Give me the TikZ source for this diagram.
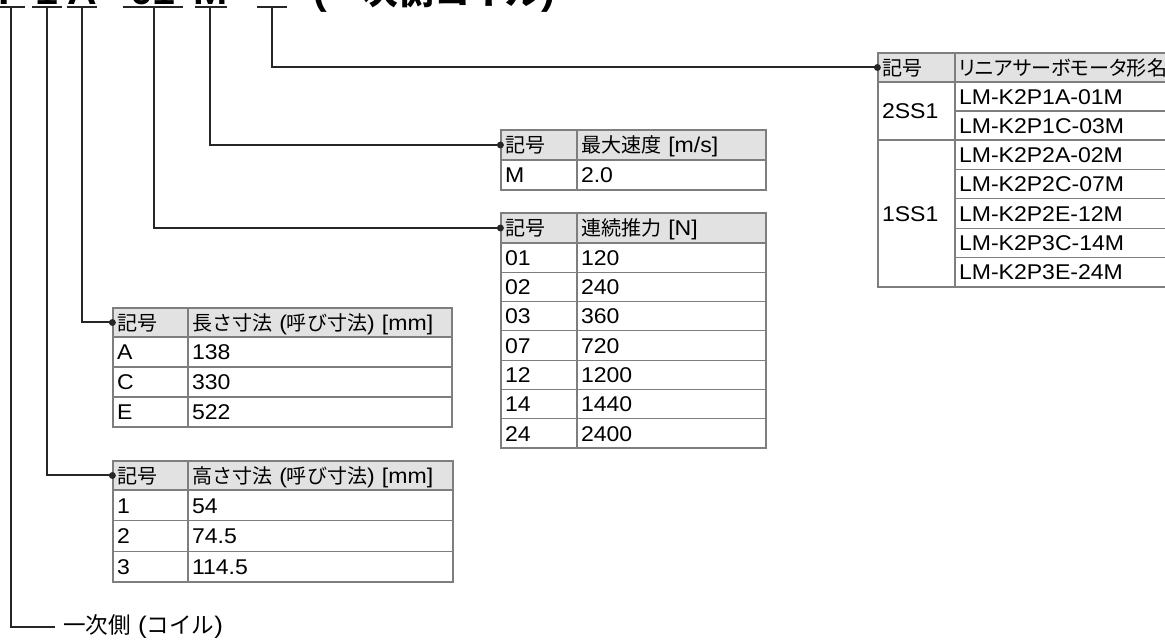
\documentclass[tikz,border=0pt]{standalone}
\usepackage{fontspec}
\setmainfont{Liberation Sans}[FakeStretch=1.08]
\newfontfamily\jp{Noto Sans CJK JP}[Scale=0.94]
\newfontfamily\jpp{Noto Sans CJK JP}[Scale=0.94, RawFeature=+palt]
\definecolor{lk}{HTML}{262626}
\definecolor{bd}{HTML}{7E7E7E}
\definecolor{hd}{HTML}{E2E2E2}
\tikzset{
  conn/.style={draw=lk, line width=1.5pt},
  cell/.style={draw=bd, line width=0.9pt, rectangle, inner xsep=3pt, inner ysep=0pt,
    align=left, text=black, font=\fontsize{16}{18}\selectfont,
    text height=12.5pt, text depth=1pt},
  hdr/.style={fill=hd},
  titlech/.style={font=\fontsize{28.5}{30}\selectfont\bfseries, inner sep=0pt, anchor=base},
  lbl/.style={font=\fontsize{18}{20}\selectfont, inner xsep=6pt, inner ysep=2pt, anchor=west}
}
\newcommand\Cell[7][]{%
  \pgfmathsetmacro\cw{#5*0.75}%
  \pgfmathsetmacro\ch{#6*0.75}%
  \pgfmathsetmacro\ctw{(#5-8)*0.75}%
  \node[cell,#1,minimum width=\cw pt,minimum height=\ch pt,text width=\ctw pt] (#2) at ({#3+#5/2},{#4+#6/2}) {#7};}
\begin{document}
\begin{tikzpicture}[x=0.75pt,y=-0.75pt]
\useasboundingbox (0,0) rectangle (1165,641);
\clip (0,0) rectangle (1165,641);
\fill[white] (0,0) rectangle (1165,641);

% clipped title
\node[titlech] (tP) at (12,4.5) {P};
\node[titlech] (t1) at (47,4.5) {1};
\node[titlech] (tA) at (82,4.5) {A};
\node[titlech] (t01) at (153,4.5) {01};
\node[titlech] (tM) at (211,4.5) {M};
\node[titlech, anchor=base west] (tJ) at (313,4.5) {({\jp 一次側コイル})};

% underline bars
\draw[conn] (0,7) -- (25,7);
\draw[conn] (32,7) -- (62,7);
\draw[conn] (67,7) -- (97,7);
\draw[conn] (123,7) -- (183,7);
\draw[conn] (195,7) -- (227,7);
\draw[conn] (257,7) -- (287,7);

\coordinate (s1) at (11,7);
\coordinate (s2) at (46.5,7);
\coordinate (s3) at (82,7);
\coordinate (s4) at (154,7);
\coordinate (s5) at (210,7);
\coordinate (s6) at (272,7);

% Table E: linear servo motor model
\Cell[hdr]{E0a}{878}{53}{77}{29}{{\jp 記号}}
\Cell[hdr]{E0b}{955}{53}{215}{29}{{\jpp リニアサーボモータ形名}}
\Cell{E1a}{878}{82}{77}{58}{2SS1}
\Cell{E1}{955}{82}{215}{29}{LM-K2P1A-01M}
\Cell{E2}{955}{111}{215}{29}{LM-K2P1C-03M}
\Cell{E2a}{878}{140}{77}{147}{1SS1}
\Cell{E3}{955}{140}{215}{29.4}{LM-K2P2A-02M}
\Cell{E4}{955}{169.4}{215}{29.4}{LM-K2P2C-07M}
\Cell{E5}{955}{198.8}{215}{29.4}{LM-K2P2E-12M}
\Cell{E6}{955}{228.2}{215}{29.4}{LM-K2P3C-14M}
\Cell{E7}{955}{257.6}{215}{29.4}{LM-K2P3E-24M}

% Table A: max speed
\Cell[hdr]{A0a}{501}{130}{76}{30}{{\jp 記号}}
\Cell[hdr]{A0b}{577}{130}{189}{30}{{\jp 最大速度} [m/s]}
\Cell{A1a}{501}{160}{76}{30}{M}
\Cell{A1b}{577}{160}{189}{30}{2.0}

% Table B: continuous thrust
\Cell[hdr]{B0a}{501}{213}{76}{30}{{\jp 記号}}
\Cell[hdr]{B0b}{577}{213}{189}{30}{{\jp 連続推力} [N]}
\Cell{B1a}{501}{243}{76}{29.3}{01}
\Cell{B1b}{577}{243}{189}{29.3}{120}
\Cell{B2a}{501}{272.3}{76}{29.3}{02}
\Cell{B2b}{577}{272.3}{189}{29.3}{240}
\Cell{B3a}{501}{301.6}{76}{29.3}{03}
\Cell{B3b}{577}{301.6}{189}{29.3}{360}
\Cell{B4a}{501}{330.9}{76}{29.3}{07}
\Cell{B4b}{577}{330.9}{189}{29.3}{720}
\Cell{B5a}{501}{360.2}{76}{29.3}{12}
\Cell{B5b}{577}{360.2}{189}{29.3}{1200}
\Cell{B6a}{501}{389.5}{76}{29.3}{14}
\Cell{B6b}{577}{389.5}{189}{29.3}{1440}
\Cell{B7a}{501}{418.8}{76}{29.3}{24}
\Cell{B7b}{577}{418.8}{189}{29.3}{2400}

% Table C: length
\Cell[hdr]{C0a}{113}{308}{75}{29}{{\jp 記号}}
\Cell[hdr]{C0b}{188}{308}{264}{29}{{\jp 長さ寸法} ({\jp 呼び寸法}) [mm]}
\Cell{C1a}{113}{337}{75}{30}{A}
\Cell{C1b}{188}{337}{264}{30}{138}
\Cell{C2a}{113}{367}{75}{30}{C}
\Cell{C2b}{188}{367}{264}{30}{330}
\Cell{C3a}{113}{397}{75}{30}{E}
\Cell{C3b}{188}{397}{264}{30}{522}

% Table D: height
\Cell[hdr]{D0a}{113}{461}{75}{29}{{\jp 記号}}
\Cell[hdr]{D0b}{188}{461}{265}{29}{{\jp 高さ寸法} ({\jp 呼び寸法}) [mm]}
\Cell{D1a}{113}{490}{75}{30.7}{1}
\Cell{D1b}{188}{490}{265}{30.7}{54}
\Cell{D2a}{113}{520.7}{75}{30.7}{2}
\Cell{D2b}{188}{520.7}{265}{30.7}{74.5}
\Cell{D3a}{113}{551.4}{75}{30.7}{3}
\Cell{D3b}{188}{551.4}{265}{30.7}{114.5}

% bottom label
\node[lbl] (coil) at (55,627) {{\jp 一次側} ({\jp コイル})};

% connectors
\draw[conn] (s1) |- (coil.west);
\draw[conn] (s2) |- (D0a.west);
\draw[conn] (s3) |- (C0a.west);
\draw[conn] (s4) |- (B0a.west);
\draw[conn] (s5) |- (A0a.west);
\draw[conn] (s6) |- (E0a.west);
\foreach \n in {D0a,C0a,B0a,A0a,E0a}
  \fill[lk] (\n.west) circle (2.6pt);
\end{tikzpicture}
\end{document}
